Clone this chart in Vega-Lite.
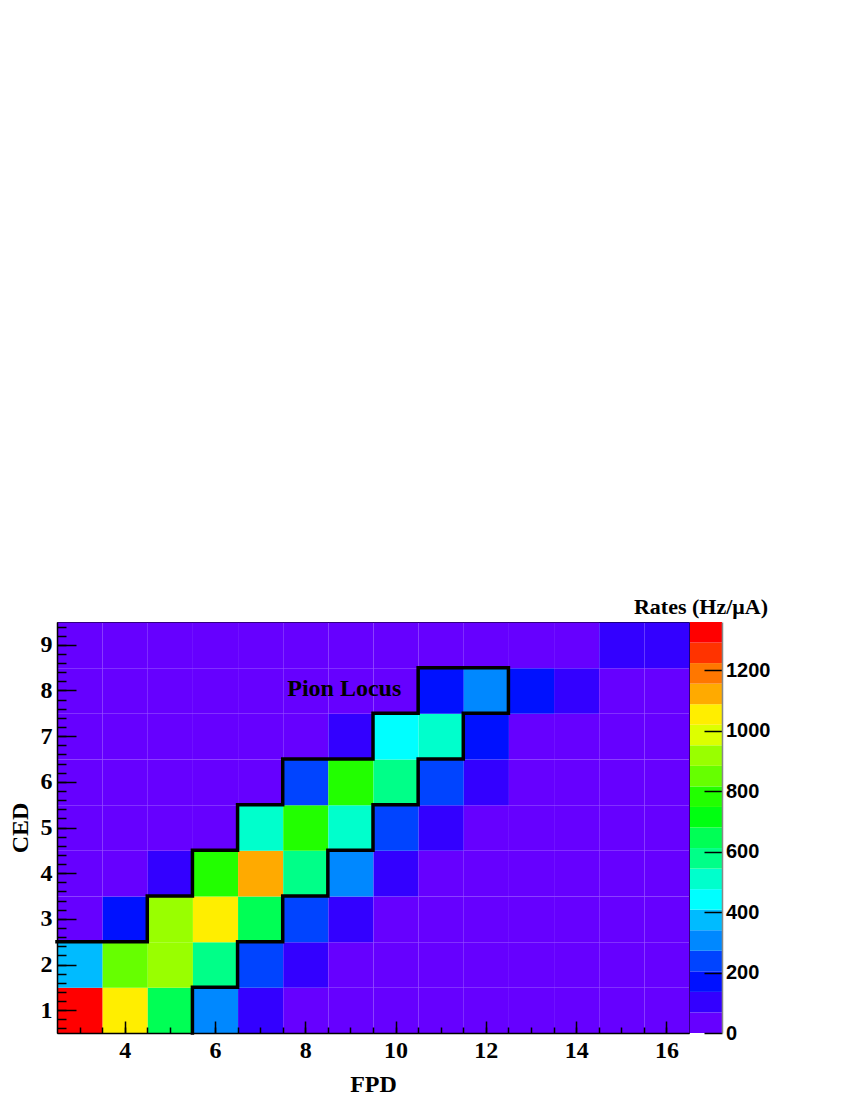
{
  "$schema": "https://vega.github.io/schema/vega-lite/v6.json",
  "padding": {"left": 7, "top": 596, "right": 5, "bottom": 0},
  "background": "white",
  "config": {"view": {"stroke": null}, "font": "Liberation Serif"},
  "spacing": 1,
  "bounds": "flush",
  "resolve": {"scale": {"color": "shared"}},
  "hconcat": [
    {
      "width": 632,
      "height": 411,
      "view": {"stroke": "black", "strokeWidth": 1},
      "resolve": {"axis": {"x": "independent", "y": "independent"}},
      "layer": [
        {
          "data": {"values": [
            {"x":3,"y":1,"v":1355},{"x":4,"y":1,"v":1060},{"x":5,"y":1,"v":650},{"x":6,"y":1,"v":300},{"x":7,"y":1,"v":110},{"x":8,"y":1,"v":45},{"x":9,"y":1,"v":30},{"x":10,"y":1,"v":22},{"x":11,"y":1,"v":18},{"x":12,"y":1,"v":15},{"x":13,"y":1,"v":12},{"x":14,"y":1,"v":10},{"x":15,"y":1,"v":9},{"x":16,"y":1,"v":8},
            {"x":3,"y":2,"v":380},{"x":4,"y":2,"v":840},{"x":5,"y":2,"v":915},{"x":6,"y":2,"v":580},{"x":7,"y":2,"v":235},{"x":8,"y":2,"v":115},{"x":9,"y":2,"v":55},{"x":10,"y":2,"v":35},{"x":11,"y":2,"v":25},{"x":12,"y":2,"v":18},{"x":13,"y":2,"v":14},{"x":14,"y":2,"v":11},{"x":15,"y":2,"v":10},{"x":16,"y":2,"v":9},
            {"x":3,"y":3,"v":60},{"x":4,"y":3,"v":170},{"x":5,"y":3,"v":925},{"x":6,"y":3,"v":1050},{"x":7,"y":3,"v":650},{"x":8,"y":3,"v":240},{"x":9,"y":3,"v":110},{"x":10,"y":3,"v":50},{"x":11,"y":3,"v":30},{"x":12,"y":3,"v":20},{"x":13,"y":3,"v":16},{"x":14,"y":3,"v":12},{"x":15,"y":3,"v":10},{"x":16,"y":3,"v":9},
            {"x":3,"y":4,"v":25},{"x":4,"y":4,"v":50},{"x":5,"y":4,"v":95},{"x":6,"y":4,"v":775},{"x":7,"y":4,"v":1125},{"x":8,"y":4,"v":590},{"x":9,"y":4,"v":300},{"x":10,"y":4,"v":110},{"x":11,"y":4,"v":55},{"x":12,"y":4,"v":30},{"x":13,"y":4,"v":20},{"x":14,"y":4,"v":15},{"x":15,"y":4,"v":12},{"x":16,"y":4,"v":10},
            {"x":3,"y":5,"v":12},{"x":4,"y":5,"v":18},{"x":5,"y":5,"v":30},{"x":6,"y":5,"v":60},{"x":7,"y":5,"v":515},{"x":8,"y":5,"v":790},{"x":9,"y":5,"v":520},{"x":10,"y":5,"v":240},{"x":11,"y":5,"v":105},{"x":12,"y":5,"v":50},{"x":13,"y":5,"v":28},{"x":14,"y":5,"v":18},{"x":15,"y":5,"v":14},{"x":16,"y":5,"v":12},
            {"x":3,"y":6,"v":8},{"x":4,"y":6,"v":10},{"x":5,"y":6,"v":15},{"x":6,"y":6,"v":25},{"x":7,"y":6,"v":55},{"x":8,"y":6,"v":245},{"x":9,"y":6,"v":785},{"x":10,"y":6,"v":585},{"x":11,"y":6,"v":235},{"x":12,"y":6,"v":100},{"x":13,"y":6,"v":45},{"x":14,"y":6,"v":25},{"x":15,"y":6,"v":18},{"x":16,"y":6,"v":14},
            {"x":3,"y":7,"v":6},{"x":4,"y":7,"v":8},{"x":5,"y":7,"v":10},{"x":6,"y":7,"v":15},{"x":7,"y":7,"v":25},{"x":8,"y":7,"v":60},{"x":9,"y":7,"v":100},{"x":10,"y":7,"v":445},{"x":11,"y":7,"v":505},{"x":12,"y":7,"v":175},{"x":13,"y":7,"v":60},{"x":14,"y":7,"v":35},{"x":15,"y":7,"v":25},{"x":16,"y":7,"v":18},
            {"x":3,"y":8,"v":5},{"x":4,"y":8,"v":6},{"x":5,"y":8,"v":8},{"x":6,"y":8,"v":10},{"x":7,"y":8,"v":15},{"x":8,"y":8,"v":25},{"x":9,"y":8,"v":45},{"x":10,"y":8,"v":65},{"x":11,"y":8,"v":165},{"x":12,"y":8,"v":310},{"x":13,"y":8,"v":165},{"x":14,"y":8,"v":95},{"x":15,"y":8,"v":50},{"x":16,"y":8,"v":35},
            {"x":3,"y":9,"v":4},{"x":4,"y":9,"v":5},{"x":5,"y":9,"v":6},{"x":6,"y":9,"v":8},{"x":7,"y":9,"v":10},{"x":8,"y":9,"v":12},{"x":9,"y":9,"v":18},{"x":10,"y":9,"v":25},{"x":11,"y":9,"v":40},{"x":12,"y":9,"v":55},{"x":13,"y":9,"v":60},{"x":14,"y":9,"v":65},{"x":15,"y":9,"v":100},{"x":16,"y":9,"v":95}
          ]},
          "mark": {"type": "rect"},
          "encoding": {
            "x": {
              "field": "x", "type": "quantitative",
              "bin": {"extent": [2.5, 16.5], "step": 1, "nice": false},
              "scale": {"domain": [2.5, 16.5], "nice": false, "zero": false},
              "axis": {
                "orient": "bottom", "values": [4, 6, 8, 10, 12, 14, 16], "title": "FPD", "zindex": 2,
                "grid": false, "tickSize": -12, "tickWidth": 1.5, "tickColor": "black",
                "domainColor": "black", "domainWidth": 1.5,
                "labelFont": "Liberation Serif", "labelFontWeight": "bold", "labelFontSize": 24, "labelColor": "black",
                "labelPadding": 17, "labelFlush": false, "labelOverlap": false,
                "titleFont": "Liberation Serif", "titleFontWeight": "bold", "titleFontSize": 24, "titleColor": "black",
                "titlePadding": 10
              }
            },
            "y": {
              "field": "y", "type": "quantitative",
              "bin": {"extent": [0.5, 9.5], "step": 1, "nice": false},
              "scale": {"domain": [0.5, 9.5], "nice": false, "zero": false},
              "axis": {
                "orient": "left", "values": [1, 2, 3, 4, 5, 6, 7, 8, 9], "title": "CED", "zindex": 2,
                "grid": false, "tickSize": -19, "tickWidth": 1.5, "tickColor": "black",
                "domainColor": "black", "domainWidth": 1.5,
                "labelFont": "Liberation Serif", "labelFontWeight": "bold", "labelFontSize": 24, "labelColor": "black",
                "labelPadding": 24, "labelFlush": false, "labelOverlap": false,
                "titleFont": "Liberation Serif", "titleFontWeight": "bold", "titleFontSize": 24, "titleColor": "black",
                "titlePadding": 8
              }
            },
            "color": {
              "field": "v", "type": "quantitative",
              "scale": {"type": "quantize", "domain": [0, 1360], "nice": false, "zero": false,
                "range": ["#6600ff","#3300ff","#0011ff","#0044ff","#0088ff","#00bbff","#00ffff","#00ffcc","#00ff88","#00ff55","#00ff11","#22ff00","#66ff00","#99ff00","#ddff00","#ffee00","#ffaa00","#ff7700","#ff3300","#ff0000"]},
              "legend": null
            }
          }
        },
        {
          "data": {"values": [
            {"i":0,"px":2.5,"py":2.5},{"i":1,"px":4.5,"py":2.5},{"i":2,"px":4.5,"py":3.5},{"i":3,"px":5.5,"py":3.5},
            {"i":4,"px":5.5,"py":4.5},{"i":5,"px":6.5,"py":4.5},{"i":6,"px":6.5,"py":5.5},{"i":7,"px":7.5,"py":5.5},
            {"i":8,"px":7.5,"py":6.5},{"i":9,"px":9.5,"py":6.5},{"i":10,"px":9.5,"py":7.5},{"i":11,"px":10.5,"py":7.5},
            {"i":12,"px":10.5,"py":8.5},{"i":13,"px":12.5,"py":8.5},{"i":14,"px":12.5,"py":7.5},{"i":15,"px":11.5,"py":7.5},
            {"i":16,"px":11.5,"py":6.5},{"i":17,"px":10.5,"py":6.5},{"i":18,"px":10.5,"py":5.5},{"i":19,"px":9.5,"py":5.5},
            {"i":20,"px":9.5,"py":4.5},{"i":21,"px":8.5,"py":4.5},{"i":22,"px":8.5,"py":3.5},{"i":23,"px":7.5,"py":3.5},
            {"i":24,"px":7.5,"py":2.5},{"i":25,"px":6.5,"py":2.5},{"i":26,"px":6.5,"py":1.5},{"i":27,"px":5.5,"py":1.5},
            {"i":28,"px":5.5,"py":0.5}
          ]},
          "mark": {"type": "line", "color": "black", "strokeWidth": 3.5, "strokeJoin": "miter", "strokeCap": "square"},
          "encoding": {
            "x": {
              "field": "px", "type": "quantitative",
              "scale": {"domain": [2.5, 16.5], "nice": false, "zero": false},
              "axis": {
                "orient": "bottom", "title": null, "labels": false, "domain": false, "grid": false, "zindex": 2,
                "values": [3,3.5,4,4.5,5,5.5,6,6.5,7,7.5,8,8.5,9,9.5,10,10.5,11,11.5,12,12.5,13,13.5,14,14.5,15,15.5,16],
                "tickSize": -6, "tickWidth": 1.5, "tickColor": "black"
              }
            },
            "y": {
              "field": "py", "type": "quantitative",
              "scale": {"domain": [0.5, 9.5], "nice": false, "zero": false},
              "axis": {
                "orient": "left", "title": null, "labels": false, "domain": false, "grid": false, "zindex": 2,
                "values": [0.6,0.8,1,1.2,1.4,1.6,1.8,2,2.2,2.4,2.6,2.8,3,3.2,3.4,3.6,3.8,4,4.2,4.4,4.6,4.8,5,5.2,5.4,5.6,5.8,6,6.2,6.4,6.6,6.8,7,7.2,7.4,7.6,7.8,8,8.2,8.4,8.6,8.8,9,9.2,9.4],
                "tickSize": -9, "tickWidth": 1.5, "tickColor": "black"
              }
            },
            "order": {"field": "i", "type": "quantitative"}
          }
        },
        {
          "data": {"values": [{"tx": 7.6, "ty": 7.89, "label": "Pion Locus"}]},
          "mark": {"type": "text", "align": "left", "baseline": "alphabetic", "font": "Liberation Serif", "fontWeight": "bold", "fontSize": 24, "color": "black"},
          "encoding": {
            "x": {"field": "tx", "type": "quantitative", "scale": {"domain": [2.5, 16.5], "nice": false, "zero": false}, "axis": null},
            "y": {"field": "ty", "type": "quantitative", "scale": {"domain": [0.5, 9.5], "nice": false, "zero": false}, "axis": null},
            "text": {"field": "label"}
          }
        }
      ]
    },
    {
      "width": 32,
      "height": 411,
      "title": {"text": "Rates (Hz/μA)", "frame": "group", "anchor": "middle", "font": "Liberation Serif", "fontSize": 22, "fontWeight": "bold", "color": "black", "baseline": "alphabetic", "offset": -14, "dx": -5},
      "data": {"values": [
        {"bar":"c","lo":0,"hi":68,"mid":34},{"bar":"c","lo":68,"hi":136,"mid":102},{"bar":"c","lo":136,"hi":204,"mid":170},{"bar":"c","lo":204,"hi":272,"mid":238},
        {"bar":"c","lo":272,"hi":340,"mid":306},{"bar":"c","lo":340,"hi":408,"mid":374},{"bar":"c","lo":408,"hi":476,"mid":442},{"bar":"c","lo":476,"hi":544,"mid":510},
        {"bar":"c","lo":544,"hi":612,"mid":578},{"bar":"c","lo":612,"hi":680,"mid":646},{"bar":"c","lo":680,"hi":748,"mid":714},{"bar":"c","lo":748,"hi":816,"mid":782},
        {"bar":"c","lo":816,"hi":884,"mid":850},{"bar":"c","lo":884,"hi":952,"mid":918},{"bar":"c","lo":952,"hi":1020,"mid":986},{"bar":"c","lo":1020,"hi":1088,"mid":1054},
        {"bar":"c","lo":1088,"hi":1156,"mid":1122},{"bar":"c","lo":1156,"hi":1224,"mid":1190},{"bar":"c","lo":1224,"hi":1292,"mid":1258},{"bar":"c","lo":1292,"hi":1360,"mid":1326}
      ]},
      "mark": {"type": "rect"},
      "encoding": {
        "x": {"field": "bar", "type": "nominal", "axis": null, "scale": {"paddingInner": 0, "paddingOuter": 0}},
        "y": {
          "field": "lo", "type": "quantitative",
          "scale": {"domain": [0, 1360], "nice": false, "zero": false},
          "axis": {
            "orient": "right", "values": [0, 200, 400, 600, 800, 1000, 1200], "format": "d", "title": null, "grid": false, "zindex": 2,
            "tickSize": -18, "tickWidth": 1.5, "tickColor": "black", "domainColor": "#888888", "domainWidth": 1.5,
            "labelFont": "Liberation Sans", "labelFontWeight": "bold", "labelFontSize": 20, "labelColor": "black",
            "labelPadding": 21.5, "labelFlush": false, "labelOverlap": false
          }
        },
        "y2": {"field": "hi"},
        "color": {
          "field": "mid", "type": "quantitative",
          "scale": {"type": "quantize", "domain": [0, 1360], "nice": false, "zero": false,
            "range": ["#6600ff","#3300ff","#0011ff","#0044ff","#0088ff","#00bbff","#00ffff","#00ffcc","#00ff88","#00ff55","#00ff11","#22ff00","#66ff00","#99ff00","#ddff00","#ffee00","#ffaa00","#ff7700","#ff3300","#ff0000"]},
          "legend": null
        }
      }
    }
  ]
}
